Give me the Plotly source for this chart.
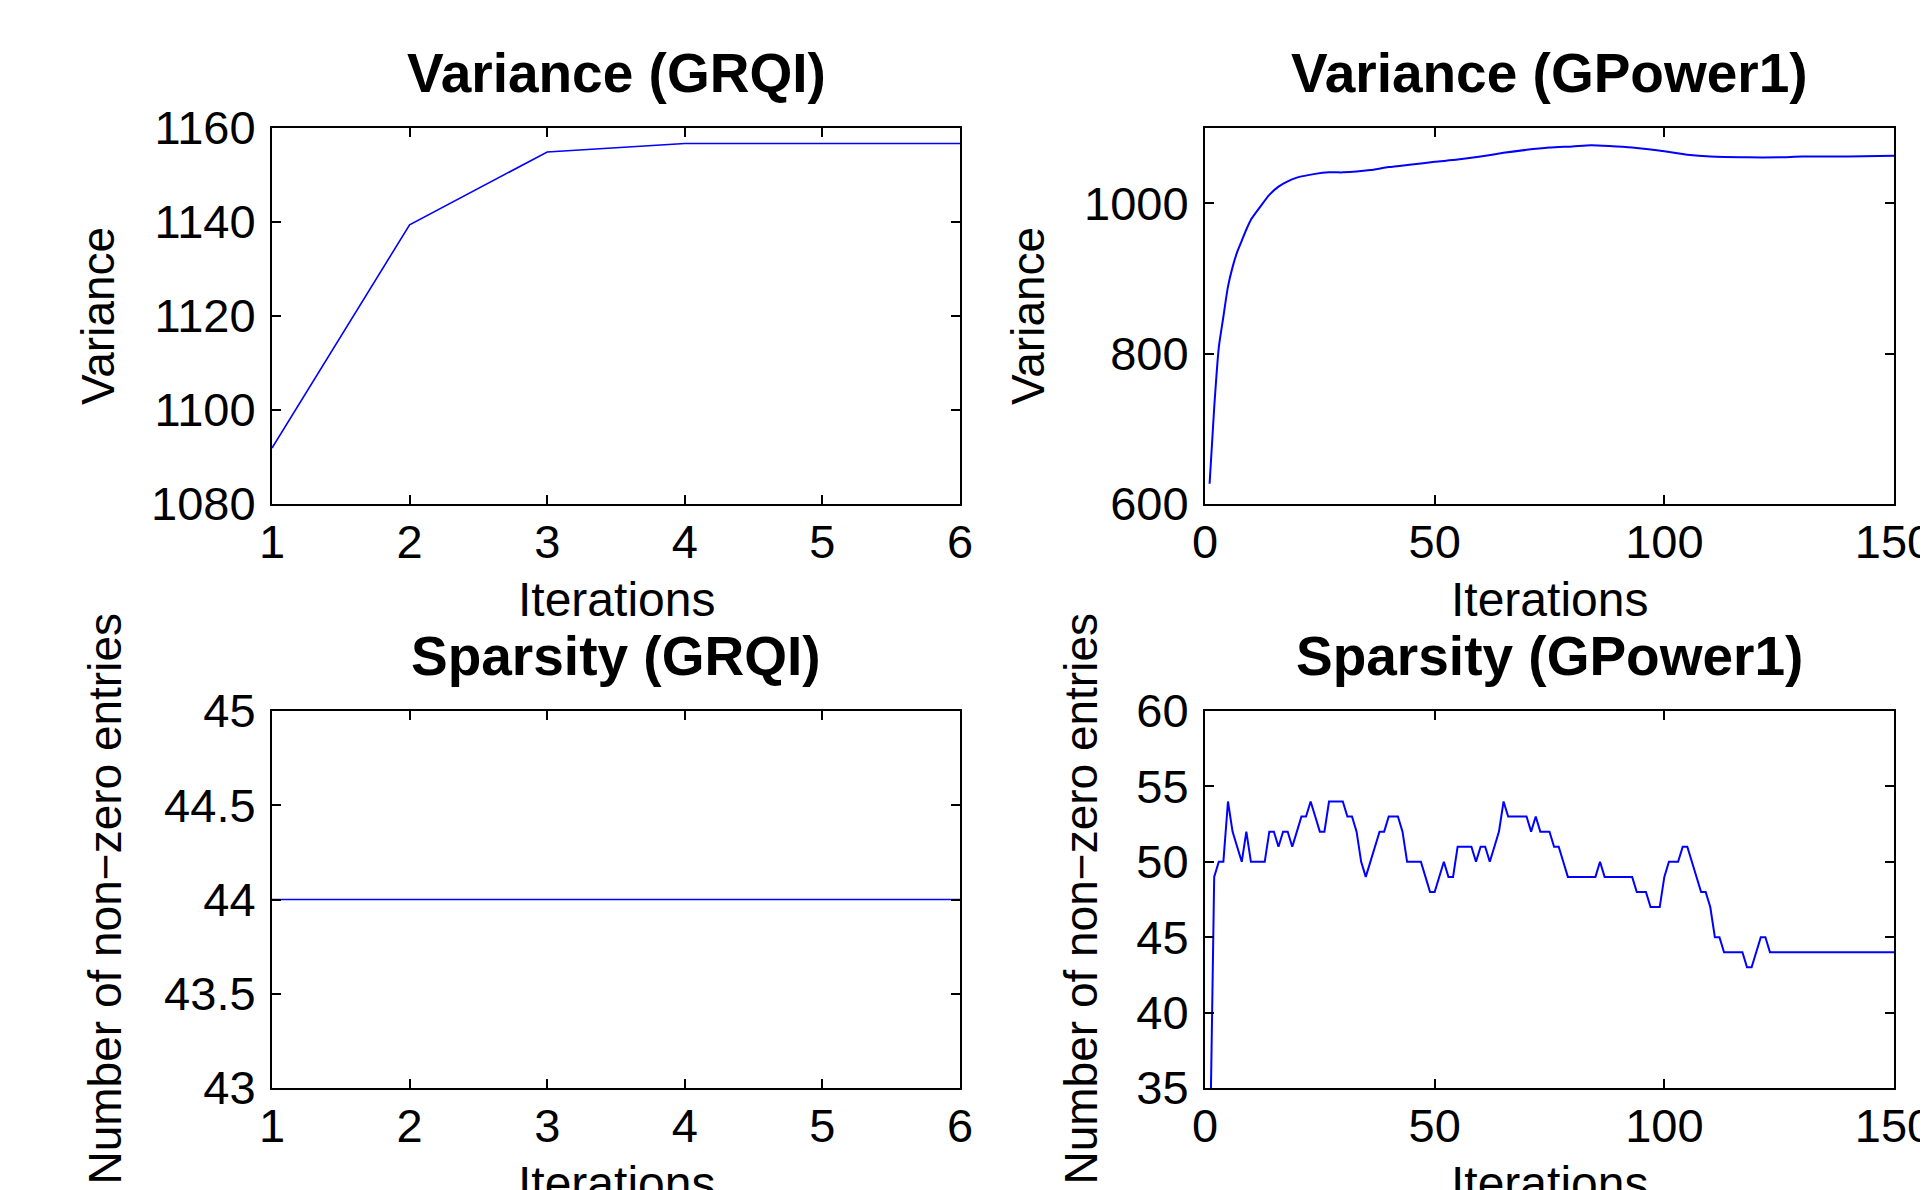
import plotly.graph_objects as go

# ---------------- data ----------------
grqi_iter = [1, 2, 3, 4, 5, 6]
grqi_variance = [1091.9, 1139.4, 1154.9, 1156.7, 1156.7, 1156.7]
grqi_sparsity = [44, 44, 44, 44, 44, 44]

gp_var_iter = [1, 2, 3, 4, 5, 6, 7, 8, 9, 10, 12, 14, 16, 18, 20, 24, 27, 30, 33, 36,
               40, 45, 50, 55, 60, 65, 70, 75, 80, 84, 88, 93, 100, 105, 110, 118,
               125, 130, 140, 150]
gp_variance = [627, 728, 808, 849, 889, 915, 935, 950, 965, 978, 995, 1011, 1022, 1029,
               1034, 1039, 1041, 1041, 1042, 1044, 1048, 1051.5, 1055, 1058, 1062, 1067,
               1071, 1074, 1075.5, 1077, 1076, 1074, 1069, 1064.5, 1062, 1061, 1061,
               1062, 1062, 1063]

gp_sparsity = [29, 49, 50, 50, 54, 52, 51, 50, 52, 50,
               50, 50, 50, 52, 52, 51, 52, 52, 51, 52,
               53, 53, 54, 53, 52, 52, 54, 54, 54, 54,
               53, 53, 52, 50, 49, 50, 51, 52, 52, 53,
               53, 53, 52, 50, 50, 50, 50, 49, 48, 48,
               49, 50, 49, 49, 51, 51, 51, 51, 50, 51,
               51, 50, 51, 52, 54, 53, 53, 53, 53, 53,
               52, 53, 52, 52, 52, 51, 51, 50, 49, 49,
               49, 49, 49, 49, 49, 50, 49, 49, 49, 49,
               49, 49, 49, 48, 48, 48, 47, 47, 47, 49,
               50, 50, 50, 51, 51, 50, 49, 48, 48, 47,
               45, 45, 44, 44, 44, 44, 44, 43, 43, 44,
               45, 45, 44, 44, 44, 44, 44, 44, 44, 44,
               44, 44, 44, 44, 44, 44, 44, 44, 44, 44,
               44, 44, 44, 44, 44, 44, 44, 44, 44, 44]
gp_sp_iter = list(range(1, len(gp_sparsity) + 1))

titles = ["Variance (GRQI)", "Variance (GPower1)", "Sparsity (GRQI)", "Sparsity (GPower1)"]
ylabels = ["Variance", "Variance", "Number of non\u2212zero entries", "Number of non\u2212zero entries"]
xlabel = "Iterations"

# ---------------- layout geometry (pixels in the 1928x1190 window) ----------------
OFF = 8                      # default page margin around the plot div
W, H = 1928 - OFF, 1190 - OFF
FONT = "Liberation Sans, Arial, Helvetica, sans-serif"
BLUE = "#0000ff"

colx = [(272, 960), (1205, 1894)]
rowy = [(128, 504), (711, 1088)]


def px(x):
    return (x - OFF) / W


def py(y):
    return 1 - (y - OFF) / H


fig = go.Figure()

fig.add_trace(go.Scatter(x=grqi_iter, y=grqi_variance, mode="lines",
                         line=dict(color=BLUE, width=1.6), xaxis="x", yaxis="y"))
fig.add_trace(go.Scatter(x=gp_var_iter, y=gp_variance, mode="lines",
                         line=dict(color=BLUE, width=2, shape="spline", smoothing=0.6),
                         xaxis="x2", yaxis="y2"))
fig.add_trace(go.Scatter(x=grqi_iter, y=grqi_sparsity, mode="lines",
                         line=dict(color=BLUE, width=1.6), xaxis="x3", yaxis="y3"))
fig.add_trace(go.Scatter(x=gp_sp_iter, y=gp_sparsity, mode="lines",
                         line=dict(color=BLUE, width=2), xaxis="x4", yaxis="y4"))

tickfont = dict(family=FONT, size=47, color="black")
common = dict(showline=True, linecolor="black", linewidth=2, mirror="ticks",
              ticks="inside", ticklen=9, tickwidth=1.5, tickcolor="black",
              showgrid=False, zeroline=False, tickfont=tickfont, automargin=False,
              ticklabeloverflow="allow")

x_specs = [
    dict(range=[1, 6], tickvals=[1, 2, 3, 4, 5, 6]),
    dict(range=[0, 150], tickvals=[0, 50, 100, 150]),
    dict(range=[1, 6], tickvals=[1, 2, 3, 4, 5, 6]),
    dict(range=[0, 150], tickvals=[0, 50, 100, 150]),
]
y_specs = [
    dict(range=[1080, 1160], tickvals=[1080, 1100, 1120, 1140, 1160]),
    dict(range=[600, 1100], tickvals=[600, 800, 1000]),
    dict(range=[43, 45], tickvals=[43, 43.5, 44, 44.5, 45],
         ticktext=["43", "43.5", "44", "44.5", "45"]),
    dict(range=[35, 60], tickvals=[35, 40, 45, 50, 55, 60]),
]

layout = dict(width=W, height=H,
              margin=dict(l=0, r=0, t=0, b=0, pad=0, autoexpand=False),
              paper_bgcolor="white", plot_bgcolor="white", showlegend=False,
              font=dict(family=FONT, color="black"))

annotations = []
for i in range(4):
    r, c = divmod(i, 2)
    x0, x1 = colx[c]
    y0, y1 = rowy[r]
    sfx = "" if i == 0 else str(i + 1)
    layout["xaxis" + sfx] = dict(domain=[px(x0), px(x1)], anchor="y" + sfx,
                                 ticklabelstandoff=-4, **x_specs[i], **common)
    layout["yaxis" + sfx] = dict(domain=[py(y1), py(y0)], anchor="x" + sfx,
                                 ticklabelstandoff=5, **y_specs[i], **common)
    cx = (x0 + x1) / 2
    # title
    annotations.append(dict(text="<b>" + titles[i] + "</b>", x=px(cx), y=py(y0 - 55),
                            xref="paper", yref="paper", xanchor="center", yanchor="middle",
                            showarrow=False, font=dict(family=FONT, size=55, color="black")))
    # x label
    annotations.append(dict(text=xlabel, x=px(cx), y=py(y1 + 95),
                            xref="paper", yref="paper", xanchor="center", yanchor="middle",
                            showarrow=False, font=dict(family=FONT, size=48, color="black")))

ylab_x = [98, 1028, 104, 1080]
for i in range(4):
    r, c = divmod(i, 2)
    y0, y1 = rowy[r]
    annotations.append(dict(text=ylabels[i], x=px(ylab_x[i]), y=py((y0 + y1) / 2),
                            xref="paper", yref="paper", xanchor="center", yanchor="middle",
                            textangle=-90, showarrow=False,
                            font=dict(family=FONT, size=46, color="black")))

layout["annotations"] = annotations
fig.update_layout(**layout)
fig.write_html("out.html")
